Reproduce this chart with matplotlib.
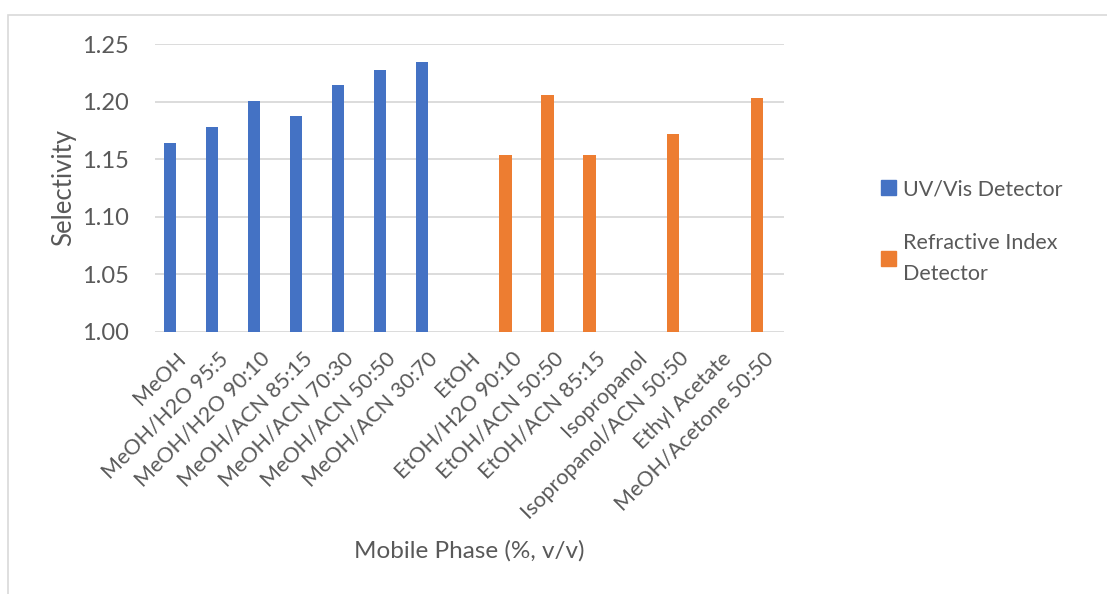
import matplotlib
matplotlib.use('Agg')
import matplotlib.pyplot as plt
from matplotlib.patches import Rectangle, Patch
import numpy as np

plt.rcParams['font.family'] = ['Lato', 'DejaVu Sans']

# Selectivity for each mobile phase
phases = ["MeOH", "MeOH/H2O 95:5", "MeOH/H2O 90:10", "MeOH/ACN 85:15",
          "MeOH/ACN 70:30", "MeOH/ACN 50:50", "MeOH/ACN 30:70", "EtOH",
          "EtOH/H2O 90:10", "EtOH/ACN 50:50", "EtOH/ACN 85:15", "Isopropanol",
          "Isopropanol/ACN 50:50", "Ethyl Acetate", "MeOH/Acetone 50:50"]
uv_vis = [1.164, 1.178, 1.201, 1.188, 1.215, 1.228, 1.235,
          np.nan, np.nan, np.nan, np.nan, np.nan, np.nan, np.nan, np.nan]
refractive = [np.nan, np.nan, np.nan, np.nan, np.nan, np.nan, np.nan,
              np.nan, 1.154, 1.206, 1.154, np.nan, 1.172, np.nan, 1.203]

text_col = '#595959'
grid_col = '#D9D9D9'

fig = plt.figure(figsize=(11.07, 5.94), dpi=100)
ax = fig.add_axes([155 / 1107, 1 - 331.7 / 594, 629 / 1107, (331.7 - 44.3) / 594])

x = np.arange(len(phases))
ax.bar(x - 0.14, uv_vis, width=0.29, color='#4472C4', zorder=3)
ax.bar(x - 0.14, refractive, width=0.29, color='#ED7D31', zorder=3)

ax.set_ylim(1.0, 1.25)
ax.set_xlim(-0.5, len(phases) - 0.5)
yt = np.arange(1.0, 1.2501, 0.05)
ax.set_yticks(yt)
ax.set_yticklabels([f'{v:.2f}' for v in yt])
ax.yaxis.grid(True, color=grid_col, linewidth=1.3, zorder=0)
ax.set_axisbelow(True)
for s in ax.spines.values():
    s.set_visible(False)
ax.tick_params(axis='both', length=0, colors=text_col)
ax.tick_params(axis='y', labelsize=17, pad=19)

ax.set_xticks(x)
ax.set_xticklabels(phases, rotation=45, ha='right', rotation_mode='anchor',
                   fontsize=15.5, color=text_col)
ax.tick_params(axis='x', pad=12)

ax.set_ylabel('Selectivity', fontsize=18.5, color=text_col, labelpad=4)
ax.set_xlabel('Mobile Phase (%, v/v)', fontsize=17.5, color=text_col, labelpad=12)

handles = [Patch(color='#4472C4'), Patch(color='#ED7D31')]
fig.legend(handles, ['UV/Vis Detector', 'Refractive Index\nDetector'],
           loc='upper left', bbox_to_anchor=(862 / 1107, 1 - 160 / 594),
           frameon=False, fontsize=15.5, labelcolor=text_col,
           handlelength=0.7, handleheight=0.7, handletextpad=0.3,
           labelspacing=1.55)
for t in fig.legends[0].get_texts():
    t.set_linespacing(1.7)

# chart frame
fig.patches.append(Rectangle((8 / 1107, -0.1), 1.2, 1 - 15 / 594 + 0.1,
                             transform=fig.transFigure, fill=False,
                             edgecolor=grid_col, linewidth=1.2))

fig.savefig('out.png', dpi=100)
